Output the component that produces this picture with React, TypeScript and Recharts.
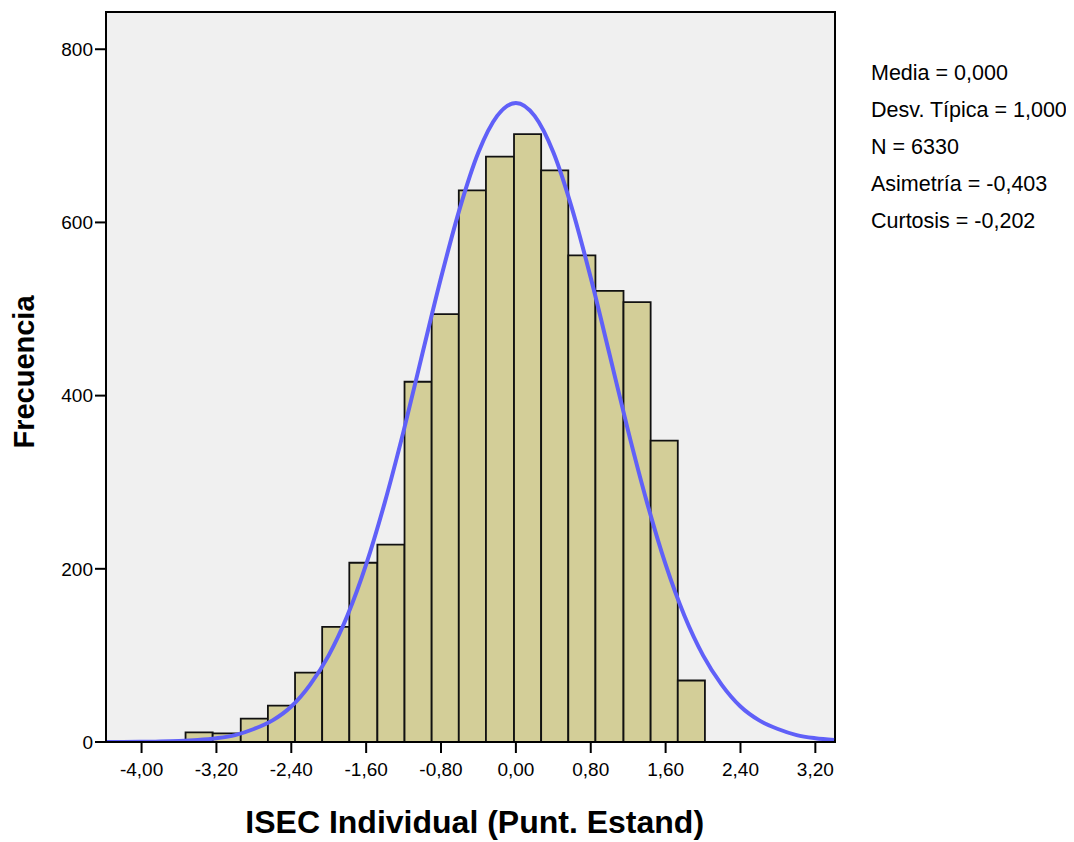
import React from "react";
import {
  ComposedChart,
  Line,
  XAxis,
  YAxis,
  CartesianGrid,
  ReferenceArea,
} from "recharts";

// histogram bins (lower/upper edges) and counts
const binEdges = [
  -3.53, -3.24, -2.94, -2.65, -2.36, -2.07, -1.78, -1.48, -1.19, -0.9, -0.61,
  -0.32, -0.02, 0.27, 0.56, 0.85, 1.15, 1.44, 1.73, 2.02,
];
const binCounts = [
  11, 10, 27, 42, 80, 133, 207, 228, 416, 494, 637, 676, 702, 660, 562, 521,
  508, 348, 71,
];

// fitted normal curve
const curveX = [
  -4.4, -4.2, -4.0, -3.8, -3.6, -3.4, -3.2, -3.0, -2.8, -2.6, -2.4, -2.2, -2.0,
  -1.8, -1.6, -1.4, -1.2, -1.0, -0.8, -0.6, -0.4, -0.2, 0.0, 0.2, 0.4, 0.6,
  0.8, 1.0, 1.2, 1.4, 1.6, 1.8, 2.0, 2.2, 2.4, 2.6, 2.8, 3.0, 3.2, 3.4,
];
const curveY = [
  0, 0.1, 0.3, 0.5, 1.1, 2.3, 4.4, 8, 15, 25, 41, 66, 100, 146, 205, 277, 359,
  448, 536, 616, 681, 723, 738, 723, 681, 616, 536, 448, 359, 277, 205, 146,
  100, 66, 41, 25, 15, 8, 4.4, 2.3,
];

const xTicks = [-4.0, -3.2, -2.4, -1.6, -0.8, 0.0, 0.8, 1.6, 2.4, 3.2];
const yTicks = [0, 200, 400, 600, 800];

const stats = [
  "Media = 0,000",
  "Desv. Típica = 1,000",
  "N = 6330",
  "Asimetría = -0,403",
  "Curtosis = -0,202",
];

const X_MIN = -4.38;
const X_MAX = 3.41;
const Y_MAX = 843;

const FONT = "'Liberation Sans', Arial, sans-serif";

const curveData = curveX.map((x, i) => ({ x, y: curveY[i] }));

const fmt = (v: number) => v.toFixed(2).replace(".", ",");

export default function App() {
  return (
    <div style={{ position: "relative", width: 1058, height: 834, fontFamily: FONT }}>
      <ComposedChart
        width={1058}
        height={834}
        margin={{ top: 4, right: 231, left: 0, bottom: 0 }}
        style={{ fontFamily: FONT }}
      >
        <CartesianGrid fill="#f0f0f0" horizontal={false} vertical={false} />
        <XAxis
          type="number"
          dataKey="x"
          domain={[X_MIN, X_MAX]}
          allowDataOverflow
          ticks={xTicks}
          tickFormatter={fmt}
          height={100}
          tickSize={11}
          tickMargin={10}
          stroke="#000"
          strokeWidth={2}
          tick={{ fill: "#000", fontSize: 19 }}
        />
        <YAxis
          type="number"
          domain={[0, Y_MAX]}
          allowDataOverflow
          ticks={yTicks}
          width={98}
          tickSize={11}
          tickMargin={2}
          stroke="#000"
          strokeWidth={2}
          tick={{ fill: "#000", fontSize: 19 }}
        />
        {binCounts.map((c, i) => (
          <ReferenceArea
            key={i}
            x1={binEdges[i]}
            x2={binEdges[i + 1]}
            y1={0}
            y2={c}
            fill="#d3ce98"
            fillOpacity={1}
            stroke="#111"
            strokeWidth={1.8}
          />
        ))}
        <ReferenceArea
          x1={X_MIN}
          x2={X_MAX}
          y1={0}
          y2={Y_MAX}
          fill="none"
          stroke="#000"
          strokeWidth={2}
        />
        <Line
          data={curveData}
          dataKey="y"
          type="monotone"
          stroke="#6060f8"
          strokeWidth={4}
          dot={false}
          activeDot={false}
          isAnimationActive={false}
        />
      </ComposedChart>

      <div
        style={{
          position: "absolute",
          left: 15.5,
          top: 363.5,
          transform: "translate(-50%, -50%) rotate(-90deg)",
          fontSize: 29,
          fontWeight: "bold",
          whiteSpace: "nowrap",
        }}
      >
        Frecuencia
      </div>

      <div
        style={{
          position: "absolute",
          left: 166.7,
          top: 798,
          width: 600,
          textAlign: "center",
          fontSize: 32,
          lineHeight: "32px",
          fontWeight: "bold",
          whiteSpace: "nowrap",
        }}
      >
        ISEC Individual (Punt. Estand)
      </div>

      <div style={{ position: "absolute", left: 863, top: 47, fontSize: 21.5, lineHeight: "37px" }}>
        {stats.map((s) => (
          <div key={s} style={{ whiteSpace: "nowrap" }}>
            {s}
          </div>
        ))}
      </div>
    </div>
  );
}
